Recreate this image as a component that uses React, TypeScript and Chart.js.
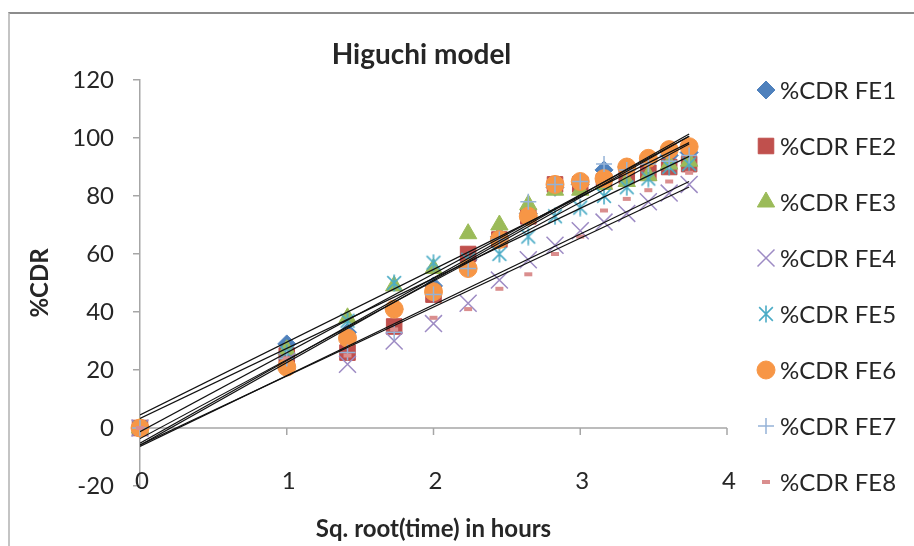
import React, { useEffect, useRef } from "react";
import { Chart, registerables } from "chart.js";
import { drawPoint } from "chart.js/helpers";

Chart.register(...registerables);

// ---- data ----
const sqrtTime = [0, 1, 1.414, 1.732, 2, 2.236, 2.449, 2.646, 2.828, 3, 3.162, 3.317, 3.464, 3.606, 3.742];
const seriesNames = ["%CDR FE1", "%CDR FE2", "%CDR FE3", "%CDR FE4", "%CDR FE5", "%CDR FE6", "%CDR FE7", "%CDR FE8"];
const fe1 = [0, 29, 33, 41, 49, 58, 66, 74, 83, 84, 89, 90, 92, 94, 95];
const fe2 = [0, 25, 26, 35, 46, 60, 65, 73, 84, 84, 85, 87, 88, 90, 91];
const fe3 = [0, 27, 38, 49, 55, 67, 70, 77, 82, 82, 84, 85, 87, 91, 92];
const fe4 = [0, 23, 22, 30, 36, 43, 51, 58, 63, 68, 71, 74, 78, 81, 84];
const fe5 = [0, 26, 37, 50, 57, 58, 60, 66, 73, 76, 80, 83, 86, 90, 91];
const fe6 = [0, 21, 31, 41, 47, 55, 65, 73, 84, 85, 86, 90, 93, 96, 97];
const fe7 = [0, 24, 26, 33, 46, 55, 65, 78, 84, 85, 91, 89, 91, 92, 94];
const fe8 = [0, 24, 25, 34, 38, 41, 48, 53, 60, 66, 75, 79, 82, 85, 88];
const seriesValues = [fe1, fe2, fe3, fe4, fe5, fe6, fe7, fe8];
const xTickValues = [0, 1, 2, 3, 4];
const yTickValues = [-20, 0, 20, 40, 60, 80, 100, 120];
const chartTitle = "Higuchi model";
const xAxisTitle = "Sq. root(time) in hours";
const yAxisTitle = "%CDR";

// ---- styles ----
const markerColors = ["#4F81BD", "#C0504D", "#9BBB59", "#9D8BC4", "#4BACC6", "#F79646", "#95B3D7", "#DA8E8E"];
const FONT = "Lato, 'Open Sans', sans-serif";
const TEXT = "#262626";
const AXIS = "#a6a6a6";

function makeAsterisk(color: string, size: number) {
  const c = document.createElement("canvas");
  c.width = size;
  c.height = size;
  const g = c.getContext("2d")!;
  g.strokeStyle = color;
  g.lineWidth = 1.6;
  const m = size / 2;
  const a = size * 0.38;
  g.beginPath();
  g.moveTo(m - a, m - a);
  g.lineTo(m + a, m + a);
  g.moveTo(m + a, m - a);
  g.lineTo(m - a, m + a);
  g.moveTo(m, 0.5);
  g.lineTo(m, size - 0.5);
  g.stroke();
  return c;
}

function trend(xs: number[], ys: number[]) {
  const n = xs.length;
  let sx = 0, sy = 0, sxx = 0, sxy = 0;
  for (let i = 0; i < n; i++) {
    sx += xs[i];
    sy += ys[i];
    sxx += xs[i] * xs[i];
    sxy += xs[i] * ys[i];
  }
  const slope = (n * sxy - sx * sy) / (n * sxx - sx * sx);
  const icpt = (sy - slope * sx) / n;
  const x0 = Math.min(...xs);
  const x1 = Math.max(...xs);
  return [
    { x: x0, y: icpt + slope * x0 },
    { x: x1, y: icpt + slope * x1 },
  ];
}

export default function App() {
  const ref = useRef<HTMLCanvasElement | null>(null);

  useEffect(() => {
    const canvas = ref.current;
    if (!canvas) return;

    const styles: any[] = [
      { pointStyle: "rectRot", radius: 9, borderWidth: 1 },
      { pointStyle: "rect", radius: 11, borderWidth: 1 },
      { pointStyle: "triangle", radius: 10, borderWidth: 1 },
      { pointStyle: "crossRot", radius: 12, borderWidth: 1.5 },
      { pointStyle: makeAsterisk(markerColors[4], 18), radius: 9, borderWidth: 1 },
      { pointStyle: "circle", radius: 9, borderWidth: 1 },
      { pointStyle: "cross", radius: 8, borderWidth: 1.5 },
      { pointStyle: "line", radius: 4, borderWidth: 4 },
    ];

    const markerSets = seriesValues.map((vals, i) => ({
      type: "scatter" as const,
      label: seriesNames[i],
      data: vals.map((v, j) => ({ x: sqrtTime[j], y: v })),
      showLine: false,
      clip: false,
      pointStyle: styles[i].pointStyle,
      pointRadius: styles[i].radius,
      pointBorderWidth: styles[i].borderWidth,
      pointBackgroundColor: markerColors[i],
      pointBorderColor: markerColors[i],
      order: 20 - i,
    }));

    const trendSets = seriesValues.map((vals, i) => ({
      type: "line" as const,
      label: "trend " + seriesNames[i],
      data: trend(sqrtTime, vals),
      borderColor: "#111111",
      borderWidth: 1.2,
      pointRadius: 0,
      fill: false,
      order: 0,
    }));

    const axisPlugin = {
      id: "zeroAxis",
      beforeDatasetsDraw(chart: any) {
        const { ctx, scales, chartArea } = chart;
        const xs = scales.x;
        const ys = scales.y;
        const y0 = ys.getPixelForValue(0);
        ctx.save();
        ctx.strokeStyle = AXIS;
        ctx.lineWidth = 1.5;
        ctx.beginPath();
        ctx.moveTo(xs.getPixelForValue(xTickValues[0]), y0);
        ctx.lineTo(xs.getPixelForValue(xTickValues[xTickValues.length - 1]), y0);
        xTickValues.forEach((v) => {
          const px = xs.getPixelForValue(v);
          ctx.moveTo(px, y0);
          ctx.lineTo(px, y0 + 7);
        });
        ctx.stroke();
        // x tick labels, placed low (near the bottom of the plot area)
        ctx.fillStyle = TEXT;
        ctx.font = `24px ${FONT}`;
        ctx.textAlign = "center";
        ctx.textBaseline = "middle";
        xTickValues.forEach((v) => {
          ctx.fillText(String(v), xs.getPixelForValue(v) + 2, chartArea.bottom - 5);
        });
        ctx.restore();
      },
    };

    const titleLegendPlugin = {
      id: "titleLegend",
      afterDraw(chart: any) {
        const { ctx, chartArea } = chart;
        ctx.save();
        ctx.fillStyle = TEXT;
        ctx.font = `bold 28px ${FONT}`;
        ctx.textAlign = "center";
        ctx.textBaseline = "middle";
        ctx.fillText(chartTitle, (chartArea.left + chartArea.right) / 2 - 12, 55);

        ctx.font = `24px ${FONT}`;
        ctx.textAlign = "left";
        seriesNames.forEach((name, i) => {
          const y = 90 + i * 56;
          ctx.fillStyle = markerColors[i];
          ctx.strokeStyle = markerColors[i];
          ctx.lineWidth = styles[i].borderWidth;
          drawPoint(ctx, { pointStyle: styles[i].pointStyle, radius: styles[i].radius, rotation: 0, borderWidth: styles[i].borderWidth }, 766, y);
          ctx.fillStyle = TEXT;
          ctx.fillText(name, 780, y + 1);
        });
        ctx.restore();
      },
    };

    const chart = new Chart(canvas, {
      type: "scatter",
      data: { datasets: [...markerSets, ...trendSets] as any },
      options: {
        animation: false,
        responsive: false,
        events: [],
        layout: { padding: { top: 80, right: 187, bottom: 0, left: 20 } },
        plugins: {
          legend: { display: false },
          tooltip: { enabled: false },
          title: { display: false },
        },
        scales: {
          x: {
            type: "linear",
            min: xTickValues[0],
            max: xTickValues[xTickValues.length - 1],
            afterBuildTicks: (s: any) => {
              s.ticks = xTickValues.map((v) => ({ value: v }));
            },
            ticks: { display: false },
            grid: { display: false },
            border: { display: false },
            title: {
              display: true,
              text: xAxisTitle,
              color: TEXT,
              font: { family: FONT, size: 24, weight: "bold" },
              padding: { top: 0, bottom: 2 },
            },
            afterFit: (s: any) => {
              s.height = 60;
            },
          },
          y: {
            type: "linear",
            min: yTickValues[0],
            max: yTickValues[yTickValues.length - 1],
            afterBuildTicks: (s: any) => {
              s.ticks = yTickValues.map((v) => ({ value: v }));
            },
            ticks: { padding: 19, font: { family: FONT, size: 24 }, color: TEXT },
            grid: { drawOnChartArea: false, drawTicks: true, tickLength: 7, color: AXIS, lineWidth: 1.5 },
            border: { display: true, color: AXIS, width: 1.5 },
            title: {
              display: true,
              text: yAxisTitle,
              color: TEXT,
              font: { family: FONT, size: 24, weight: "bold" },
              padding: { top: 6, bottom: 0 },
            },
            afterFit: (s: any) => {
              s.width = 120;
            },
          },
        },
      } as any,
      plugins: [axisPlugin, titleLegendPlugin],
    });

    return () => chart.destroy();
  }, []);

  return (
    <div style={{ position: "fixed", left: 0, top: 0, width: 914, height: 546, background: "#fff", overflow: "hidden" }}>
      <div
        style={{
          position: "absolute",
          left: 8,
          top: 12,
          width: 1000,
          height: 1000,
          borderTop: "2px solid #8c8c8c",
          borderLeft: "2px solid #c4c4c4",
        }}
      />
      <canvas ref={ref} width={914} height={546} style={{ position: "absolute", left: 0, top: 0, width: 914, height: 546 }} />
    </div>
  );
}
